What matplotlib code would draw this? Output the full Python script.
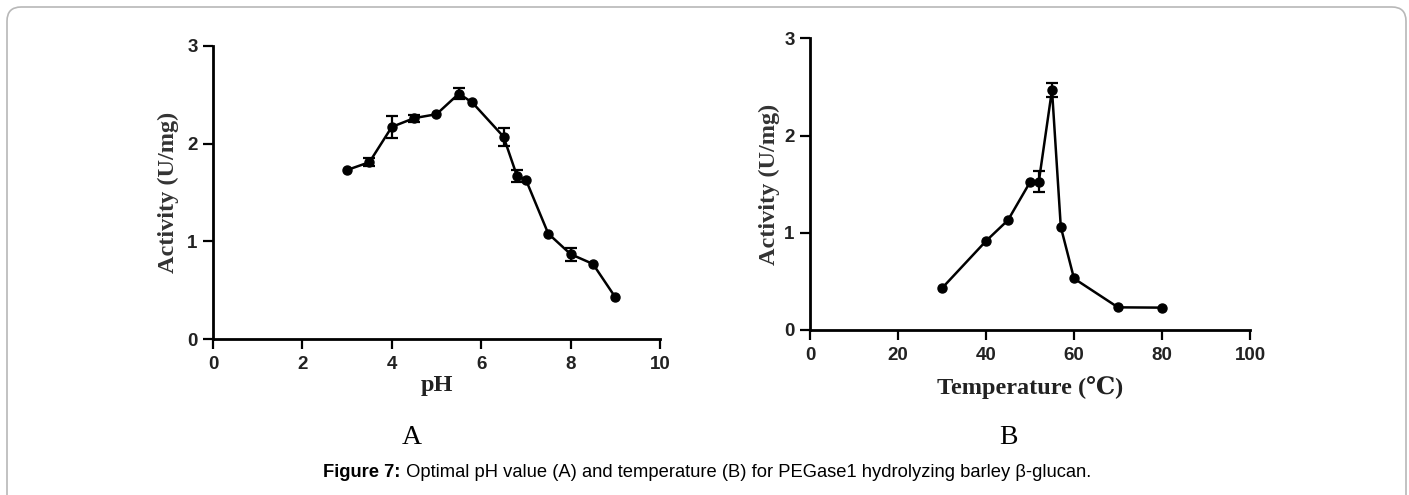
import matplotlib
matplotlib.use("Agg")
import matplotlib.pyplot as plt
from matplotlib.patches import FancyBboxPatch

# ---- data ----
ph = [3.0, 3.5, 4.0, 4.5, 5.0, 5.5, 5.8, 6.5, 6.8, 7.0, 7.5, 8.0, 8.5, 9.0]
ph_act = [1.73, 1.81, 2.17, 2.26, 2.30, 2.51, 2.42, 2.07, 1.67, 1.63, 1.08, 0.87, 0.77, 0.43]
ph_err = [0.0, 0.04, 0.11, 0.035, 0.0, 0.055, 0.0, 0.09, 0.065, 0.0, 0.0, 0.065, 0.0, 0.0]

temp = [30, 40, 45, 50, 52, 55, 57, 60, 70, 80]
temp_act = [0.43, 0.915, 1.13, 1.52, 1.525, 2.47, 1.06, 0.53, 0.233, 0.23]
temp_err = [0.0, 0.0, 0.0, 0.0, 0.11, 0.075, 0.0, 0.0, 0.0, 0.0]

ph_xticks = [0, 2, 4, 6, 8, 10]
temp_xticks = [0, 20, 40, 60, 80, 100]
yticks = [0, 1, 2, 3]

W, H = 1409, 495
fig = plt.figure(figsize=(W / 100, H / 100), dpi=100)

border = FancyBboxPatch((7 / W, -0.05), (1406 - 7) / W, (1 - 7 / H) + 0.05,
                        boxstyle="round,pad=0,rounding_size=0.01",
                        transform=fig.transFigure, fill=False, ec="#b8b8b8", lw=1.2,
                        mutation_aspect=W / H)
fig.patches.append(border)

label_font = ["Liberation Serif", "DejaVu Serif", "Noto Sans CJK SC"]


def make_axes(rect, x, y, err, xticks, xlim, xlabel, xpad, ypad):
    ax = fig.add_axes(rect)
    ax.plot(x, y, color="black", lw=1.8, marker="o", ms=6.5, clip_on=False, zorder=3)
    ex = [xi for xi, e in zip(x, err) if e > 0]
    ey = [yi for yi, e in zip(y, err) if e > 0]
    ee = [e for e in err if e > 0]
    ax.errorbar(ex, ey, yerr=ee, fmt="none", ecolor="black", capsize=4,
                elinewidth=1.6, capthick=1.6, clip_on=False, zorder=2)
    ax.set_xlim(*xlim)
    ax.set_ylim(0, 3)
    ax.set_xticks(xticks)
    ax.set_yticks(yticks)
    for s in ["top", "right"]:
        ax.spines[s].set_visible(False)
    for s in ["left", "bottom"]:
        ax.spines[s].set_linewidth(2)
    ax.tick_params(width=1.6, length=7, direction="out", pad=4)
    ax.tick_params(axis="x", pad=5)
    for lab in ax.get_xticklabels() + ax.get_yticklabels():
        lab.set_fontfamily("Liberation Sans")
        lab.set_fontweight("bold")
        lab.set_fontsize(13.5)
        lab.set_color("#222222")
    ax.set_xlabel(xlabel, family=label_font, weight="bold", size=17.5, labelpad=xpad, color="#222222")
    ax.set_ylabel("Activity (U/mg)", family=label_font, weight="bold", size=17.5, labelpad=ypad, color="#333333")
    return ax


ax1 = make_axes([213 / W, 1 - 339.3 / H, (660 - 213) / W, (339.3 - 45.7) / H],
                ph, ph_act, ph_err, ph_xticks, (0, 10), "pH", 1.5, 6)
ax2 = make_axes([810 / W, 1 - 330 / H, (1250 - 810) / W, (330 - 38.3) / H],
                temp, temp_act, temp_err, temp_xticks, (0, 100), "Temperature (\u2103)", 9, 3)

fig.text(412 / W, 1 - 437 / H, "A", family=label_font, size=20, ha="center", va="center")
fig.text(1008 / W, 1 - 437 / H, "B", family=label_font, size=20, ha="center", va="center")

# caption
fig.canvas.draw()
r = fig.canvas.get_renderer()
t1 = fig.text(0, 0, "Figure 7:", family="Liberation Sans", weight="bold", size=13.2)
t2 = fig.text(0, 0, " Optimal pH value (A) and temperature (B) for PEGase1 hydrolyzing barley \u03b2-glucan.",
              family="Liberation Sans", size=13.2)
w1 = t1.get_window_extent(r).width
w2 = t2.get_window_extent(r).width
x0 = 707 - (w1 + w2) / 2
yb = 1 - 477 / H
t1.set_position((x0 / W, yb))
t2.set_position(((x0 + w1) / W, yb))

fig.savefig("out.png", dpi=100)
